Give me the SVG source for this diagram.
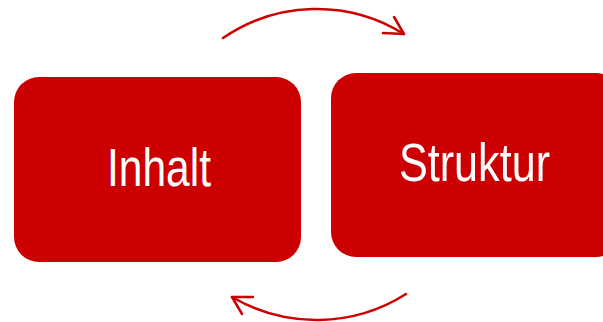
<svg xmlns="http://www.w3.org/2000/svg" width="603" height="322" viewBox="0 0 603 322">
  <style>
    .box { fill: #cc0000; }
    .label { fill: #ffffff; font-family: "Liberation Sans", Arial, sans-serif; font-size: 54px; text-anchor: middle; }
    .arc { fill: none; stroke: #cc0000; stroke-width: 2.5; stroke-linecap: round; stroke-linejoin: round; }
  </style>
  <rect width="603" height="322" fill="#ffffff"/>
  <g id="connectors">
    <!-- top arc: Inhalt to Struktur -->
    <path class="arc" d="M223,38 A165,165 0 0 1 404,34"/>
    <polyline class="arc" points="383,33 404,34 394,17"/>
    <!-- bottom arc: Struktur to Inhalt -->
    <path class="arc" d="M406,294 A167,167 0 0 1 232,297"/>
    <polyline class="arc" points="253,297 232,297 242,314"/>
  </g>
  <g id="inhalt">
    <rect class="box" x="14" y="77" width="287" height="185" rx="25" ry="25"/>
    <text class="label" x="159" y="186" textLength="104" lengthAdjust="spacingAndGlyphs">Inhalt</text>
  </g>
  <g id="struktur">
    <rect class="box" x="331" y="73" width="290" height="184" rx="25" ry="25"/>
    <text class="label" x="474.5" y="181" textLength="151" lengthAdjust="spacingAndGlyphs">Struktur</text>
  </g>
</svg>
